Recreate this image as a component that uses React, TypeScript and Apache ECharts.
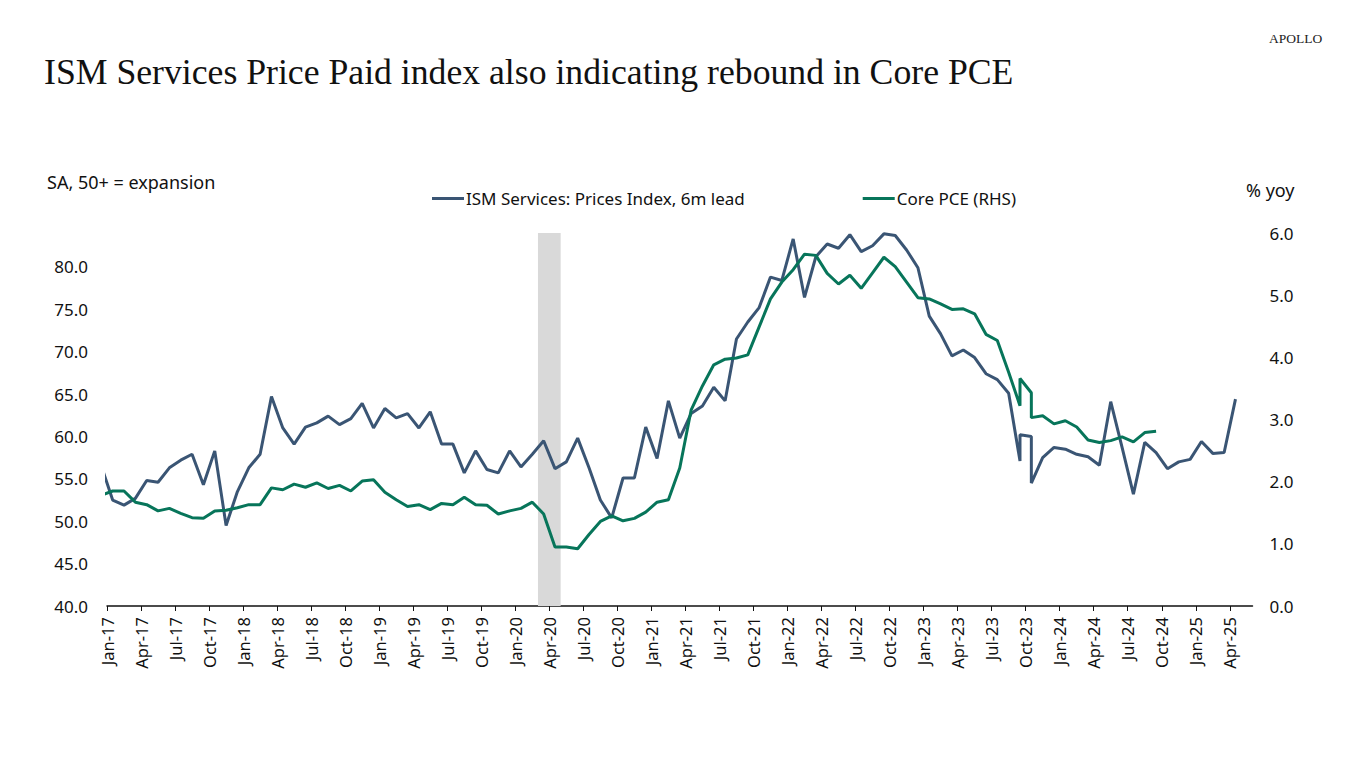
import React, { useEffect, useRef } from "react";
import * as echarts from "echarts";

// ---- Data ----
const TICK_LABELS = [
  "Jan-17", "Apr-17", "Jul-17", "Oct-17",
  "Jan-18", "Apr-18", "Jul-18", "Oct-18",
  "Jan-19", "Apr-19", "Jul-19", "Oct-19",
  "Jan-20", "Apr-20", "Jul-20", "Oct-20",
  "Jan-21", "Apr-21", "Jul-21", "Oct-21",
  "Jan-22", "Apr-22", "Jul-22", "Oct-22",
  "Jan-23", "Apr-23", "Jul-23", "Oct-23",
  "Jan-24", "Apr-24", "Jul-24", "Oct-24",
  "Jan-25", "Apr-25",
];

// month index 0 = Jan-17; series start at Dec-16 (index -1)
const SERIES_START_MONTH = -1;
// months that appear twice in the source data (6m-lead date shift)
const DUPLICATE_MONTHS = [80, 81];

// Recession (months from Jan-17): Mar-20 .. May-20
const RECESSION = [38, 40];

const ISM_PRICES = [
  56.5, 52.5, 51.9, 52.7, 54.8, 54.6, 56.3, 57.2, 57.9, 54.3, 58.3, 49.5, 53.5,
  56.3, 57.9, 64.7, 61.0, 59.1, 61.1, 61.6, 62.4, 61.4, 62.1, 63.9, 61.0,
  63.3, 62.2, 62.7, 61.0, 62.9, 59.1, 59.1, 55.7, 58.3, 56.1, 55.7, 58.3,
  56.4, 57.9, 59.5, 56.2, 57.0, 59.8, 56.3, 52.5, 50.4, 55.1, 55.1, 61.1,
  57.4, 64.2, 59.8, 62.7, 63.6, 65.8, 64.2, 71.5, 73.5, 75.2, 78.8, 78.4,
  83.3, 76.4, 81.2, 82.7, 82.2, 83.8, 81.8, 82.5, 83.9, 83.7, 82.0, 79.9,
  74.2, 72.1, 69.5, 70.2, 69.3, 67.4, 66.7, 65.1,
  57.1, 60.2, 60.0, 54.5,
  57.5, 58.7, 58.5, 57.9, 57.6, 56.6, 64.1, 58.7, 53.2, 59.3, 58.1, 56.2,
  57.0, 57.3, 59.4, 58.0, 58.1, 64.4,
];

const CORE_PCE = [
  1.78, 1.85, 1.85, 1.67, 1.63, 1.53, 1.57, 1.49, 1.42, 1.41, 1.53, 1.54, 1.58,
  1.63, 1.63, 1.90, 1.87, 1.96, 1.91, 1.98, 1.89, 1.94, 1.85, 2.01, 2.03,
  1.83, 1.71, 1.60, 1.63, 1.55, 1.65, 1.63, 1.75, 1.63, 1.62, 1.48, 1.53,
  1.57, 1.67, 1.48, 0.95, 0.95, 0.92, 1.15, 1.36, 1.45, 1.37, 1.41, 1.51,
  1.67, 1.71, 2.22, 3.15, 3.54, 3.88, 3.97, 3.99, 4.04, 4.49, 4.94, 5.21,
  5.41, 5.66, 5.64, 5.35, 5.18, 5.32, 5.11, 5.36, 5.61, 5.46, 5.21, 4.96,
  4.94, 4.86, 4.77, 4.78, 4.70, 4.37, 4.27, 3.76,
  3.22, 3.66, 3.43, 3.03,
  3.06, 2.93, 2.98, 2.88, 2.67, 2.63, 2.66, 2.72, 2.64, 2.79, 2.81,
];

const LEFT_TICKS = [40, 45, 50, 55, 60, 65, 70, 75, 80];

const BLUE = "#3a5574";
const GREEN = "#07755a";

function toPoints(values: number[]): [number, number][] {
  const out: [number, number][] = [];
  let month = SERIES_START_MONTH;
  const seen: Record<number, number> = {};
  for (const v of values) {
    out.push([month + 0.5, v]);
    seen[month] = (seen[month] || 0) + 1;
    if (!(DUPLICATE_MONTHS.includes(month) && seen[month] < 2)) month += 1;
  }
  return out;
}

const SANS = "'Noto Sans', 'Open Sans', sans-serif";
const SERIF = "'Liberation Serif', 'DejaVu Serif', serif";

export default function App() {
  const ref = useRef<HTMLDivElement>(null);

  useEffect(() => {
    if (!ref.current) return;
    const chart = echarts.init(ref.current, undefined, { renderer: "svg" });
    const tickValues = TICK_LABELS.map((_, i) => i * 3);

    chart.setOption({
      animation: false,
      backgroundColor: "#ffffff",
      textStyle: { fontFamily: SANS },
      graphic: [
        {
          type: "text",
          left: 44,
          top: 54,
          style: {
            text: "ISM Services Price Paid index also indicating rebound in Core PCE",
            font: `35.7px ${SERIF}`,
            fill: "#111111",
          },
        },
        {
          type: "text",
          left: 1269,
          top: 31,
          style: { text: "APOLLO", font: `13.5px ${SERIF}`, fill: "#222222" },
        },
        {
          type: "text",
          left: 47,
          top: 173,
          style: { text: "SA, 50+ = expansion", font: `18px ${SANS}`, fill: "#111111" },
        },
        {
          type: "text",
          left: 1246,
          top: 181,
          style: { text: "% yoy", font: `18px ${SANS}`, fill: "#111111" },
        },
      ],
      legend: {
        left: 432,
        top: 190,
        padding: 0,
        itemWidth: 32,
        itemHeight: 3,
        itemGap: 118,
        icon: "rect",
        textStyle: { fontSize: 17, color: "#111111", fontFamily: SANS, padding: [0, 0, 0, -3] },
        data: ["ISM Services: Prices Index, 6m lead", "Core PCE (RHS)"],
      },
      grid: { left: 107, right: 113.5, top: 233, bottom: 162, containLabel: false },
      xAxis: {
        type: "value",
        min: 0,
        max: 101,
        interval: 3,
        splitLine: { show: false },
        axisLine: { show: true, lineStyle: { color: "#111111", width: 1.5 } },
        axisTick: {
          show: true,
          length: 5,
          customValues: tickValues,
          lineStyle: { color: "#111111", width: 1 },
        },
        axisLabel: {
          customValues: tickValues,
          rotate: 90,
          margin: 11,
          fontSize: 16.5,
          color: "#111111",
          fontFamily: SANS,
          formatter: (v: number) => TICK_LABELS[Math.round(v / 3)] ?? "",
        },
      },
      yAxis: [
        {
          type: "value",
          min: 40,
          max: 84,
          interval: 5,
          position: "left",
          splitLine: { show: false },
          axisLine: { show: false },
          axisTick: { show: false },
          axisLabel: {
            customValues: LEFT_TICKS,
            margin: 19,
            fontSize: 17,
            color: "#111111",
            fontFamily: SANS,
            formatter: (v: number) => v.toFixed(1),
          },
        },
        {
          type: "value",
          min: 0,
          max: 6,
          interval: 1,
          position: "right",
          splitLine: { show: false },
          axisLine: { show: false },
          axisTick: { show: false },
          axisLabel: {
            margin: 17,
            fontSize: 17,
            color: "#111111",
            fontFamily: SANS,
            formatter: (v: number) => v.toFixed(1),
          },
        },
      ],
      series: [
        {
          name: "recession",
          type: "line",
          data: [],
          yAxisIndex: 0,
          silent: true,
          z: 1,
          markArea: {
            silent: true,
            itemStyle: { color: "#d9d9d9" },
            data: [[{ xAxis: RECESSION[0] }, { xAxis: RECESSION[1] }]],
          },
        },
        {
          name: "ISM Services: Prices Index, 6m lead",
          type: "line",
          yAxisIndex: 0,
          data: toPoints(ISM_PRICES),
          showSymbol: false,
          symbol: "none",
          lineStyle: { color: BLUE, width: 3 },
          itemStyle: { color: BLUE },
          z: 3,
        },
        {
          name: "Core PCE (RHS)",
          type: "line",
          yAxisIndex: 1,
          data: toPoints(CORE_PCE),
          showSymbol: false,
          symbol: "none",
          lineStyle: { color: GREEN, width: 3 },
          itemStyle: { color: GREEN },
          z: 4,
        },
      ],
    });

    return () => chart.dispose();
  }, []);

  return <div ref={ref} style={{ width: 1366, height: 768, margin: -8 }} />;
}
